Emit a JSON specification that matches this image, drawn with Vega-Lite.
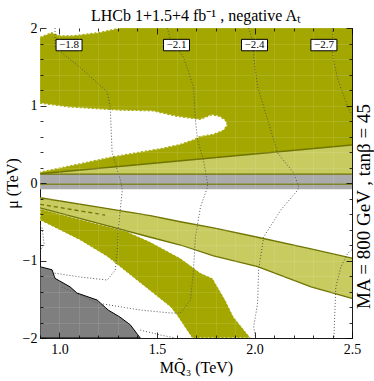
{
"$schema":"https://vega.github.io/schema/vega-lite/v6.json",
"width":312,"height":310,
"autosize":{"type":"none"},
"padding":{"left":40,"top":28,"right":22,"bottom":43},
"background":"white",
"title":{"text":"LHCb 1+1.5+4 fb⁻¹ ,  negative Aₜ","font":"Liberation Serif","fontSize":16,"fontWeight":"normal","color":"black","offset":-3,"anchor":"middle"},
"config":{"view":{"stroke":"black","strokeWidth":1}},
"datasets":{
"upperDark":[{"i":0,"x":0.9,"y":0.12},{"i":1,"x":2.5,"y":0.49},{"i":2,"x":2.5,"y":2.0},{"i":3,"x":0.9,"y":2.0},{"i":4,"x":0.9,"y":0.12}],
"whites":[
{"p":"corner","i":0,"x":0.9,"y":2.0},{"p":"corner","i":1,"x":0.9,"y":1.88},{"p":"corner","i":2,"x":0.96,"y":1.94},{"p":"corner","i":3,"x":1.0,"y":1.9},{"p":"corner","i":4,"x":1.07,"y":1.9},{"p":"corner","i":5,"x":1.2,"y":1.94},{"p":"corner","i":6,"x":1.31,"y":2.0},{"p":"corner","i":7,"x":0.9,"y":2.0},
{"p":"hole","i":0,"x":0.9,"y":1.03},{"p":"hole","i":1,"x":1.05,"y":0.98},{"p":"hole","i":2,"x":1.31,"y":0.94},{"p":"hole","i":3,"x":1.48,"y":0.93},{"p":"hole","i":4,"x":1.6,"y":0.86},{"p":"hole","i":5,"x":1.72,"y":0.82},{"p":"hole","i":6,"x":1.78,"y":0.88},{"p":"hole","i":7,"x":1.82,"y":0.86},{"p":"hole","i":8,"x":1.85,"y":0.81},{"p":"hole","i":9,"x":1.86,"y":0.75},{"p":"hole","i":10,"x":1.84,"y":0.68},{"p":"hole","i":11,"x":1.79,"y":0.63},{"p":"hole","i":12,"x":1.72,"y":0.6},{"p":"hole","i":13,"x":1.69,"y":0.56},{"p":"hole","i":14,"x":1.62,"y":0.5},{"p":"hole","i":15,"x":1.53,"y":0.45},{"p":"hole","i":16,"x":1.275,"y":0.34},{"p":"hole","i":17,"x":0.9,"y":0.14},{"p":"hole","i":18,"x":0.9,"y":1.03}],
"dashEdges":[
{"p":"corner","i":1,"x":0.9,"y":1.88},{"p":"corner","i":2,"x":0.96,"y":1.94},{"p":"corner","i":3,"x":1.0,"y":1.9},{"p":"corner","i":4,"x":1.07,"y":1.9},{"p":"corner","i":5,"x":1.2,"y":1.94},{"p":"corner","i":6,"x":1.31,"y":2.0},
{"p":"hole","i":0,"x":0.9,"y":1.03},{"p":"hole","i":1,"x":1.05,"y":0.98},{"p":"hole","i":2,"x":1.31,"y":0.94},{"p":"hole","i":3,"x":1.48,"y":0.93},{"p":"hole","i":4,"x":1.6,"y":0.86},{"p":"hole","i":5,"x":1.72,"y":0.82},{"p":"hole","i":6,"x":1.78,"y":0.88},{"p":"hole","i":7,"x":1.82,"y":0.86},{"p":"hole","i":8,"x":1.85,"y":0.81},{"p":"hole","i":9,"x":1.86,"y":0.75},{"p":"hole","i":10,"x":1.84,"y":0.68},{"p":"hole","i":11,"x":1.79,"y":0.63},{"p":"hole","i":12,"x":1.72,"y":0.6},{"p":"hole","i":13,"x":1.69,"y":0.56},{"p":"hole","i":14,"x":1.62,"y":0.5},{"p":"hole","i":15,"x":1.53,"y":0.45},{"p":"hole","i":16,"x":1.275,"y":0.34},{"p":"hole","i":17,"x":0.9,"y":0.14}],
"wedge":[{"x":0.9,"t":0.12,"b":0.115},{"x":2.5,"t":0.49,"b":0.115}],
"grayBand":[{"x":0.9,"hi":0.115,"lo":-0.08,"mid":-0.015},{"x":2.5,"hi":0.115,"lo":-0.08,"mid":-0.015}],
"lowerDark":[
{"i":0,"x":0.9,"y":-0.33},{"i":1,"x":1.2,"y":-0.53},{"i":2,"x":1.34,"y":-0.62},{"i":3,"x":1.466,"y":-0.76},{"i":4,"x":1.62,"y":-0.97},{"i":5,"x":1.723,"y":-1.16},{"i":6,"x":1.785,"y":-1.23},{"i":7,"x":1.85,"y":-1.51},{"i":8,"x":1.893,"y":-1.73},{"i":9,"x":1.98,"y":-2.0},{"i":10,"x":1.68,"y":-2.0},{"i":11,"x":1.6,"y":-1.7},{"i":12,"x":1.569,"y":-1.6},{"i":13,"x":1.414,"y":-1.29},{"i":14,"x":1.245,"y":-0.95},{"i":15,"x":1.106,"y":-0.74},{"i":16,"x":0.9,"y":-0.48},{"i":17,"x":0.9,"y":-0.33}],
"band":[{"x":0.9,"t":-0.19,"b":-0.32},{"x":1.2,"t":-0.31,"b":-0.52},{"x":1.466,"t":-0.42,"b":-0.7},{"x":1.62,"t":-0.5,"b":-0.8},{"x":1.79,"t":-0.58,"b":-0.94},{"x":2.016,"t":-0.7,"b":-1.08},{"x":2.29,"t":-0.85,"b":-1.34},{"x":2.5,"t":-0.97,"b":-1.49}],
"bandDash":[{"x":0.9,"y":-0.275},{"x":1.234,"y":-0.413}],
"grayRegion":[{"i":0,"x":0.9,"y":-2.0},{"i":1,"x":0.9,"y":-1.08},{"i":2,"x":0.962,"y":-1.12},{"i":3,"x":0.977,"y":-1.23},{"i":4,"x":1.054,"y":-1.34},{"i":5,"x":1.09,"y":-1.42},{"i":6,"x":1.193,"y":-1.51},{"i":7,"x":1.25,"y":-1.64},{"i":8,"x":1.31,"y":-1.73},{"i":9,"x":1.363,"y":-1.83},{"i":10,"x":1.414,"y":-2.0},{"i":11,"x":0.9,"y":-2.0}],
"contours":[
{"c":"a","i":0,"x":0.977,"y":2.0},{"c":"a","i":1,"x":0.977,"y":1.755},{"c":"a","i":2,"x":1.121,"y":1.458},{"c":"a","i":3,"x":1.245,"y":1.174},{"c":"a","i":4,"x":1.26,"y":0.981},{"c":"a","i":5,"x":1.27,"y":0.387},{"c":"a","i":6,"x":1.312,"y":0.039},{"c":"a","i":7,"x":1.322,"y":-0.09},{"c":"a","i":8,"x":1.301,"y":-0.606},{"c":"a","i":9,"x":1.296,"y":-0.903},{"c":"a","i":10,"x":1.286,"y":-1.123},{"c":"a","i":11,"x":1.245,"y":-1.252},{"c":"a","i":12,"x":1.106,"y":-1.213},{"c":"a","i":13,"x":0.967,"y":-1.161},
{"c":"b","i":0,"x":1.553,"y":2.0},{"c":"b","i":1,"x":1.569,"y":1.845},{"c":"b","i":2,"x":1.636,"y":1.626},{"c":"b","i":3,"x":1.687,"y":1.239},{"c":"b","i":4,"x":1.697,"y":0.813},{"c":"b","i":5,"x":1.708,"y":0.555},{"c":"b","i":6,"x":1.738,"y":0.297},{"c":"b","i":7,"x":1.759,"y":0.0},{"c":"b","i":8,"x":1.759,"y":-0.052},{"c":"b","i":9,"x":1.723,"y":-0.31},{"c":"b","i":10,"x":1.697,"y":-0.697},{"c":"b","i":11,"x":1.687,"y":-1.123},{"c":"b","i":12,"x":1.672,"y":-1.51},{"c":"b","i":13,"x":1.62,"y":-1.677},{"c":"b","i":14,"x":1.569,"y":-1.677},{"c":"b","i":15,"x":1.414,"y":-1.639},{"c":"b","i":16,"x":1.193,"y":-1.548},{"c":"b","i":17,"x":1.013,"y":-1.342},
{"c":"c","i":0,"x":1.97,"y":2.0},{"c":"c","i":1,"x":1.996,"y":1.781},{"c":"c","i":2,"x":1.996,"y":1.626},{"c":"c","i":3,"x":2.016,"y":1.239},{"c":"c","i":4,"x":2.068,"y":0.813},{"c":"c","i":5,"x":2.119,"y":0.387},{"c":"c","i":6,"x":2.201,"y":0.129},{"c":"c","i":7,"x":2.227,"y":-0.052},{"c":"c","i":8,"x":2.222,"y":-0.09},{"c":"c","i":9,"x":2.135,"y":-0.348},{"c":"c","i":10,"x":2.047,"y":-0.697},{"c":"c","i":11,"x":2.021,"y":-1.123},{"c":"c","i":12,"x":2.016,"y":-1.548},{"c":"c","i":13,"x":1.996,"y":-1.858},{"c":"c","i":14,"x":2.006,"y":-2.0},
{"c":"d","i":0,"x":2.402,"y":2.0},{"c":"d","i":1,"x":2.402,"y":1.626},{"c":"d","i":2,"x":2.428,"y":1.329},{"c":"d","i":3,"x":2.479,"y":0.981},{"c":"d","i":4,"x":2.505,"y":0.852},
{"c":"e","i":0,"x":2.51,"y":-0.84},{"c":"e","i":1,"x":2.479,"y":-0.903},{"c":"e","i":2,"x":2.443,"y":-1.084},{"c":"e","i":3,"x":2.417,"y":-1.342},{"c":"e","i":4,"x":2.407,"y":-2.0},
{"c":"f","i":0,"x":0.9,"y":-0.55},{"c":"f","i":1,"x":0.91,"y":-0.57},{"c":"f","i":2,"x":0.922,"y":-0.8},{"c":"f","i":3,"x":0.9,"y":-0.87},
{"c":"g","i":0,"x":1.414,"y":-1.897},{"c":"g","i":1,"x":1.517,"y":-1.961},{"c":"g","i":2,"x":1.594,"y":-2.0}],
"labels":[{"x":1.049,"y":1.78,"t":"−1.8"},{"x":1.6,"y":1.78,"t":"−2.1"},{"x":2.0,"y":1.78,"t":"−2.4"},{"x":2.356,"y":1.78,"t":"−2.7"}]
},
"resolve":{"axis":{"x":"independent","y":"independent"}},
"layer":[
{"data":{"name":"upperDark"},
 "mark":{"type":"line","fill":"#a3a700","stroke":"#a3a700","strokeWidth":0.5,"clip":true},
 "encoding":{
  "x":{"field":"x","type":"quantitative","scale":{"domain":[0.9,2.5],"nice":false,"zero":false},
   "axis":{"orient":"bottom","values":[0.9,1.0,1.1,1.2,1.3,1.4,1.5,1.6,1.7,1.8,1.9,2.0,2.1,2.2,2.3,2.4,2.5],
    "labelExpr":"abs(datum.value*2-round(datum.value*2))<0.01 ? format(datum.value,'.1f') : ''",
    "tickSize":{"condition":{"test":"abs(datum.value*2-round(datum.value*2))<0.01","value":-6},"value":-3},
    "tickColor":"black","tickWidth":0.8,"labelPadding":10,"labelFont":"Liberation Serif","labelFontSize":14,"labelColor":"black","labelFlush":false,
    "title":"MQ̃₃  (TeV)","titleFont":"Liberation Serif","titleFontSize":16,"titleFontWeight":"normal","titleColor":"black","titlePadding":3,
    "domain":false,"grid":true,"gridColor":"white","gridOpacity":0.1,"zindex":1}},
  "y":{"field":"y","type":"quantitative","scale":{"domain":[-2,2],"nice":false,"zero":false},
   "axis":{"orient":"left","values":[-2,-1.8,-1.6,-1.4,-1.2,-1,-0.8,-0.6,-0.4,-0.2,0,0.2,0.4,0.6,0.8,1,1.2,1.4,1.6,1.8,2],
    "labelExpr":"abs(datum.value-round(datum.value))<0.01 ? format(datum.value,'d') : ''",
    "tickSize":{"condition":{"test":"abs(datum.value-round(datum.value))<0.01","value":-6},"value":-3},
    "tickColor":"black","tickWidth":0.8,"labelPadding":9,"labelFont":"Liberation Serif","labelFontSize":14,"labelColor":"black","labelFlush":false,
    "title":"μ (TeV)","titleFont":"Liberation Serif","titleFontSize":16,"titleFontWeight":"normal","titleColor":"black","titlePadding":2,
    "domain":false,"grid":true,"gridColor":"white","gridOpacity":0.1,"zindex":1}},
  "order":{"field":"i","type":"quantitative"}}},
{"data":{"name":"whites"},
 "mark":{"type":"line","fill":"white","stroke":"white","strokeWidth":0.5,"clip":true},
 "encoding":{"x":{"field":"x","type":"quantitative","axis":null},"y":{"field":"y","type":"quantitative","axis":null},"detail":{"field":"p"},"order":{"field":"i","type":"quantitative"}}},
{"data":{"name":"dashEdges"},
 "mark":{"type":"line","stroke":"#a3a700","strokeWidth":1.1,"strokeDash":[2,2],"clip":true},
 "encoding":{"x":{"field":"x","type":"quantitative","axis":null},"y":{"field":"y","type":"quantitative","axis":null},"detail":{"field":"p"},"order":{"field":"i","type":"quantitative"}}},
{"data":{"name":"wedge"},
 "mark":{"type":"area","color":"#c8cb5f","opacity":1,"clip":true},
 "encoding":{
  "x":{"field":"x","type":"quantitative",
   "axis":{"orient":"top","values":[0.9,1.0,1.1,1.2,1.3,1.4,1.5,1.6,1.7,1.8,1.9,2.0,2.1,2.2,2.3,2.4,2.5],"labels":false,"title":null,
    "tickSize":{"condition":{"test":"abs(datum.value*2-round(datum.value*2))<0.01","value":-6},"value":-3},
    "tickColor":"black","tickWidth":0.8,"domain":false,"grid":false,"zindex":1}},
  "y":{"field":"t","type":"quantitative",
   "axis":{"orient":"right","values":[-2,-1.8,-1.6,-1.4,-1.2,-1,-0.8,-0.6,-0.4,-0.2,0,0.2,0.4,0.6,0.8,1,1.2,1.4,1.6,1.8,2],"labels":false,
    "tickSize":{"condition":{"test":"abs(datum.value-round(datum.value))<0.01","value":-6},"value":-3},
    "tickColor":"black","tickWidth":0.8,"domain":false,"grid":false,"zindex":1,
    "title":"MA  =  800 GeV  ,  tanβ  =  45","titleFont":"Liberation Serif","titleFontSize":19,"titleFontWeight":"normal","titleColor":"black","titleAngle":270,"titleX":17,"titleY":178,"titleBaseline":"alphabetic","titleAlign":"center"}},
  "y2":{"field":"b"}}},
{"data":{"name":"wedge"},
 "mark":{"type":"line","stroke":"#6f7400","strokeWidth":1.4,"clip":true},
 "encoding":{"x":{"field":"x","type":"quantitative","axis":null},"y":{"field":"t","type":"quantitative","axis":null}}},
{"data":{"name":"grayBand"},
 "mark":{"type":"area","color":"#ababab","opacity":1,"clip":true},
 "encoding":{"x":{"field":"x","type":"quantitative","axis":null},"y":{"field":"hi","type":"quantitative","axis":null},"y2":{"field":"lo"}}},
{"data":{"name":"grayBand"},
 "mark":{"type":"line","stroke":"#6f7400","strokeWidth":1.4,"clip":true},
 "encoding":{"x":{"field":"x","type":"quantitative","axis":null},"y":{"field":"mid","type":"quantitative","axis":null}}},
{"data":{"name":"grayBand"},
 "mark":{"type":"line","stroke":"#6f7400","strokeWidth":1.2,"clip":true},
 "encoding":{"x":{"field":"x","type":"quantitative","axis":null},"y":{"field":"hi","type":"quantitative","axis":null}}},
{"data":{"name":"lowerDark"},
 "mark":{"type":"line","fill":"#a3a700","stroke":"white","strokeWidth":1,"strokeDash":[2,2],"clip":true},
 "encoding":{"x":{"field":"x","type":"quantitative","axis":null},"y":{"field":"y","type":"quantitative","axis":null},"order":{"field":"i","type":"quantitative"}}},
{"data":{"name":"band"},
 "mark":{"type":"area","color":"#c8cb5f","opacity":1,"clip":true},
 "encoding":{"x":{"field":"x","type":"quantitative","axis":null},"y":{"field":"t","type":"quantitative","axis":null},"y2":{"field":"b"}}},
{"data":{"name":"band"},
 "mark":{"type":"line","stroke":"#6f7400","strokeWidth":1.3,"clip":true},
 "encoding":{"x":{"field":"x","type":"quantitative","axis":null},"y":{"field":"t","type":"quantitative","axis":null}}},
{"data":{"name":"band"},
 "mark":{"type":"line","stroke":"#6f7400","strokeWidth":1.3,"clip":true},
 "encoding":{"x":{"field":"x","type":"quantitative","axis":null},"y":{"field":"b","type":"quantitative","axis":null}}},
{"data":{"name":"bandDash"},
 "mark":{"type":"line","stroke":"#6f7400","strokeWidth":1.3,"strokeDash":[4,3],"clip":true},
 "encoding":{"x":{"field":"x","type":"quantitative","axis":null},"y":{"field":"y","type":"quantitative","axis":null}}},
{"data":{"name":"grayRegion"},
 "mark":{"type":"line","fill":"#7f7f7f","stroke":"black","strokeWidth":1,"clip":true},
 "encoding":{"x":{"field":"x","type":"quantitative","axis":null},"y":{"field":"y","type":"quantitative","axis":null},"order":{"field":"i","type":"quantitative"}}},
{"data":{"name":"contours"},
 "mark":{"type":"line","stroke":"#555555","strokeWidth":1,"strokeDash":[1,2],"clip":true},
 "encoding":{"x":{"field":"x","type":"quantitative","axis":null},"y":{"field":"y","type":"quantitative","axis":null},"detail":{"field":"c"},"order":{"field":"i","type":"quantitative"}}},
{"data":{"name":"labels"},
 "mark":{"type":"point","shape":"M-1,-0.44H1V0.44H-1Z","size":676,"filled":true,"fill":"white","stroke":"black","strokeWidth":1,"opacity":1},
 "encoding":{"x":{"field":"x","type":"quantitative","axis":null},"y":{"field":"y","type":"quantitative","axis":null}}},
{"data":{"name":"labels"},
 "mark":{"type":"text","font":"Liberation Serif","fontSize":11,"color":"black","baseline":"middle","align":"center"},
 "encoding":{"x":{"field":"x","type":"quantitative","axis":null},"y":{"field":"y","type":"quantitative","axis":null},"text":{"field":"t"}}}
]
}
